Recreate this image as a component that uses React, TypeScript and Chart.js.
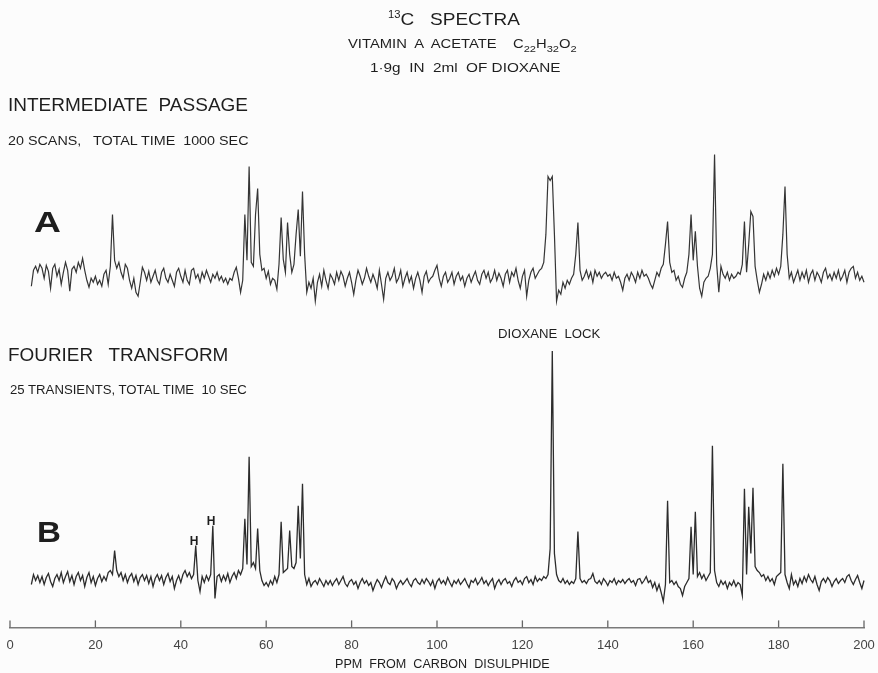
import React, { useEffect, useLayoutEffect, useRef } from "react";
import { Chart, registerables } from "chart.js";

Chart.register(...registerables);

// Chemical shift grid: first sample (ppm) and spacing (ppm)
const PPM_START = 5;
const PPM_STEP = 0.5;

// Trace A: intermediate passage, 20 scans (intensity, arbitrary units), 5.0 … 200.5 ppm
const traceA: number[] = [
  -12, 4, 8, 2, 10, 6, -4, 9, 3, -14, 6, 10, -2, 5, -10, 2, 12, 4, -17, 5,
  8, 2, 12, 6, 16, 4, -6, -13, -4, -8, -2, -10, -6, -12, 0, 4, -10, 8, 60, 14,
  6, 12, 2, -4, 10, 6, -6, -14, -4, -18, -22, -8, 7, 2, -6, 3, -8, -2, 4, -6,
  -10, 2, 6, -4, -8, 0, -6, -12, 2, 6, -2, -8, 4, -6, -10, 4, 6, -4, 0, -8,
  2, -4, 4, -2, -8, 0, -4, 2, -6, -2, -8, -4, -10, -4, -6, 2, 7, -4, -18, -6,
  60, 14, 108, 12, 8, 60, 86, 20, 4, 6, -4, 3, -10, -4, -6, -15, 10, 57, 15, 2,
  52, 20, 2, 10, 40, 65, 18, 83, 20, -18, -8, -14, -4, -27, -8, 0, -12, 4, -6, -14,
  0, -4, -10, 2, -6, 3, -2, -12, -4, 2, -8, -20, -6, 4, -2, -10, -4, 6, -2, -8,
  0, -6, -14, 4, -10, -25, -4, 2, -6, -2, 6, -8, -4, 4, -12, -4, 2, -8, -2, -14,
  -4, 2, -6, -18, -2, 3, -8, -4, -2, 4, 9, -4, -12, -2, 2, -8, -4, 2, -10, -2,
  2, -6, -2, -12, -4, 0, -8, -2, 3, -6, -10, 0, 4, -4, 2, -8, -4, 4, -6, 1,
  -4, -12, 0, 4, -8, 2, -2, 6, -6, -14, -2, 4, -22, -6, 2, 6, -4, 0, 4, 6,
  12, 40, 98, 94, 98, 40, -27, -16, -20, -8, -14, -6, -10, -4, 0, 20, 52, 4, -6, -2,
  4, -4, 2, -8, 4, -2, 2, -4, 0, 2, -2, 0, -6, 2, -4, -2, -8, -16, -4, 0,
  -6, 2, -2, -8, 2, -4, 4, -2, 0, -4, -10, -14, -6, 2, -2, 6, 10, 30, 53, 12,
  2, 4, -6, -2, -10, -13, -4, 2, 20, 60, 14, 43, 8, -14, -22, -8, -4, -2, 6, 20,
  120, 10, -18, 8, 0, -4, 2, -6, 0, -4, -2, 2, 0, 10, 53, 2, 30, 63, 58, 8,
  -6, -18, -10, 0, -6, 2, -4, 4, -2, 6, 0, 8, 40, 88, 20, -4, 2, -8, -2, 4,
  -6, 2, -4, 4, -8, 0, 4, -6, 2, -2, -8, 2, 6, -4, 0, -6, 2, -4, 4, -6,
  -2, 4, -8, 2, 6, 8, -4, 2, -6, -2, -8, -4,
];

// Trace B: Fourier transform, 25 transients (intensity, arbitrary units), 5.0 … 200.5 ppm
const traceB: number[] = [
  -6, 4, -2, 3, -4, 2, -6, 1, 5, -3, -8, 0, 4, -2, 6, -4, 2, 7, -3, 3,
  -6, 2, 6, -2, 3, -8, 1, 6, -4, 2, -7, 0, 4, -3, 2, -2, 6, 8, 4, 28,
  8, 2, 6, -2, 4, -4, 2, 5, -3, 3, -6, 1, 4, -2, 3, -5, 2, -8, 0, 4,
  -2, 3, -6, 1, 5, -3, 2, -10, -2, 3, -4, 4, 8, 2, 6, 0, 4, 33, -2, -13,
  2, -4, 3, -2, 4, 53, -20, 2, 4, -3, 3, -2, 5, -4, 2, 6, 0, 8, 4, 10,
  60, 14, 122, 12, 16, 10, 50, 8, -2, -7, -4, -8, -2, -6, 2, -4, 4, 57, 6, 8,
  10, 48, 12, 10, 16, 73, 20, 95, 4, -6, 0, -8, -4, -2, -6, 0, -4, -8, -2, -6,
  -2, -7, -3, 0, -6, -2, 2, -5, -8, -3, -1, -6, -3, -10, -4, 0, -5, -2, -7, -4,
  -12, -6, -1, -4, -9, -3, 2, -4, -6, 0, -3, -10, -5, -2, -6, -3, 0, -5, -8, -2,
  0, -4, -6, -1, -5, 0, -3, -7, -2, -10, -3, 0, -5, -2, -6, 1, -4, -8, -2, -5,
  -1, -6, -3, 0, -5, -9, -2, -4, 0, -6, -3, 1, -5, -2, -7, -3, 0, -10, -4, -1,
  -6, -2, 0, -5, -3, -8, -2, 1, -4, -2, -6, 0, 2, -4, -1, -6, 2, -3, 0, -2,
  2, 0, 4, 30, 228, 25, 4, -2, -4, 0, -5, -2, -6, -3, -5, 0, 47, 0, -4, -2,
  -5, -1, 0, 5, -3, -5, -2, -6, 0, -3, -7, -2, -4, 0, -6, -2, -4, -1, -5, -2,
  0, -4, -2, -7, -1, 0, -5, -2, 2, -4, -2, -9, -4, -12, -6, -14, -23, -6, 78, -4,
  -2, -6, -3, -8, -10, -17, -8, -4, 0, 52, 4, 67, 2, 6, 0, 4, -2, 2, 6, 133,
  8, -4, -8, -2, -6, -3, -10, -4, -7, -2, -8, -4, -6, -17, 90, 4, 72, 25, 91, 12,
  8, 6, 2, 4, -2, 2, -3, 0, -6, 2, 4, 6, 115, 4, -4, -10, 4, -6, -2, -8,
  0, -5, 2, -3, 4, -1, -4, 2, -6, -12, -3, 0, -4, 1, -2, -8, -3, 0, -5, -2,
  0, -4, 2, 4, -2, -6, -1, 3, -4, -10, -2, 0,
];

// Scale ruler tick values (ppm)
const rulerTicks = [0, 20, 40, 60, 80, 100, 120, 140, 160, 180, 200];

const FONT = "'Liberation Sans', Arial, 'DejaVu Sans', sans-serif";

function Label(props: {
  x: number;
  y: number;
  size: number;
  w?: number;
  bold?: boolean;
  center?: boolean;
  children: React.ReactNode;
  color?: string;
}) {
  const { x, y, size, w, bold, center, children, color } = props;
  const ref = useRef<HTMLDivElement>(null);
  useLayoutEffect(() => {
    const el = ref.current;
    if (!el || !w) return;
    const natural = el.offsetWidth;
    if (natural > 0) {
      el.style.transform = `translateY(-50%) scaleX(${w / natural})`;
    }
  }, [w]);
  return (
    <div
      ref={ref}
      style={{
        position: "absolute",
        left: x,
        top: y,
        transform: center ? "translate(-50%, -50%)" : "translateY(-50%)",
        transformOrigin: "left center",
        fontFamily: FONT,
        fontWeight: bold ? 700 : 400,
        fontSize: size,
        lineHeight: 1,
        whiteSpace: "pre",
        color: color || "#1e1e1e",
      }}
    >
      {children}
    </div>
  );
}

export default function App() {
  const ref = useRef<HTMLCanvasElement>(null);

  useEffect(() => {
    if (!ref.current) return;
    const ppmAt = (i: number) => PPM_START + i * PPM_STEP;
    const dataA = traceA.map((v, i) => ({ x: ppmAt(i), y: v }));
    const dataB = traceB.map((v, i) => ({ x: ppmAt(i), y: v }));

    const ruler = {
      id: "ruler",
      afterDraw(chart: any) {
        const s = chart.scales.x;
        const ctx = chart.ctx;
        ctx.save();
        ctx.strokeStyle = "#666";
        ctx.lineWidth = 1.3;
        rulerTicks.forEach((v) => {
          const px = s.getPixelForValue(v);
          ctx.beginPath();
          ctx.moveTo(px, s.top);
          ctx.lineTo(px, s.top - 7);
          ctx.stroke();
        });
        ctx.restore();
      },
    };

    const chart = new Chart(ref.current, {
      type: "line",
      data: {
        datasets: [
          {
            data: dataA,
            yAxisID: "yA",
            borderColor: "#353535",
            borderWidth: 1.2,
            pointRadius: 0,
            tension: 0,
            clip: false as any,
          },
          {
            data: dataB,
            yAxisID: "yB",
            borderColor: "#2c2c2c",
            borderWidth: 1.3,
            pointRadius: 0,
            tension: 0,
            clip: false as any,
          },
        ],
      },
      options: {
        animation: false,
        responsive: false,
        events: [],
        plugins: { legend: { display: false }, tooltip: { enabled: false } },
        layout: { padding: { left: 10, right: 14, top: 0, bottom: 10 } },
        scales: {
          x: {
            type: "linear",
            min: 0,
            max: 200,
            grid: { display: false, drawTicks: false },
            border: { display: true, color: "#7a7a7a", width: 1.5 },
            ticks: {
              stepSize: 20,
              autoSkip: false,
              padding: 10,
              color: "#444",
              font: { family: FONT, size: 13 },
            },
            title: { display: false },
            afterFit: (scale: any) => {
              scale.paddingLeft = 0;
              scale.paddingRight = 0;
            },
          },
          yA: { display: false, min: -354, max: 275 },
          yB: { display: false, min: -49, max: 580 },
        },
      },
      plugins: [ruler],
    });
    return () => chart.destroy();
  }, []);

  return (
    <div style={{ position: "fixed", left: 0, top: 0, width: 878, height: 673, background: "#fcfcfc", overflow: "hidden" }}>
      <canvas ref={ref} width={878} height={673} style={{ position: "absolute", left: 0, top: 0 }} />
      <Label x={388} y={19} size={17} w={132}>
        <sup style={{ fontSize: 10 }}>13</sup>C   SPECTRA
      </Label>
      <Label x={348} y={46} size={12} w={229}>
        {"VITAMIN  A  ACETATE    C"}<sub style={{ fontSize: 9 }}>22</sub>H<sub style={{ fontSize: 9 }}>32</sub>O<sub style={{ fontSize: 9 }}>2</sub>
      </Label>
      <Label x={370} y={68} size={12} w={190}>{"1·9g  IN  2ml  OF DIOXANE"}</Label>
      <Label x={8} y={104} size={19} w={240}>{"INTERMEDIATE  PASSAGE"}</Label>
      <Label x={8} y={141} size={12} w={240}>{"20 SCANS,   TOTAL TIME  1000 SEC"}</Label>
      <Label x={34} y={222} size={29} bold w={27}>A</Label>
      <Label x={498} y={334} size={12} w={102}>{"DIOXANE  LOCK"}</Label>
      <Label x={8} y={354} size={19} w={220}>{"FOURIER   TRANSFORM"}</Label>
      <Label x={10} y={390} size={12} w={237}>{"25 TRANSIENTS, TOTAL TIME  10 SEC"}</Label>
      <Label x={37} y={532} size={29} bold w={24}>B</Label>
      <Label x={194} y={541} size={12} bold center>H</Label>
      <Label x={211} y={521} size={12} bold center>H</Label>
      <Label x={335} y={664} size={12} w={215}>{"PPM  FROM  CARBON  DISULPHIDE"}</Label>
    </div>
  );
}
